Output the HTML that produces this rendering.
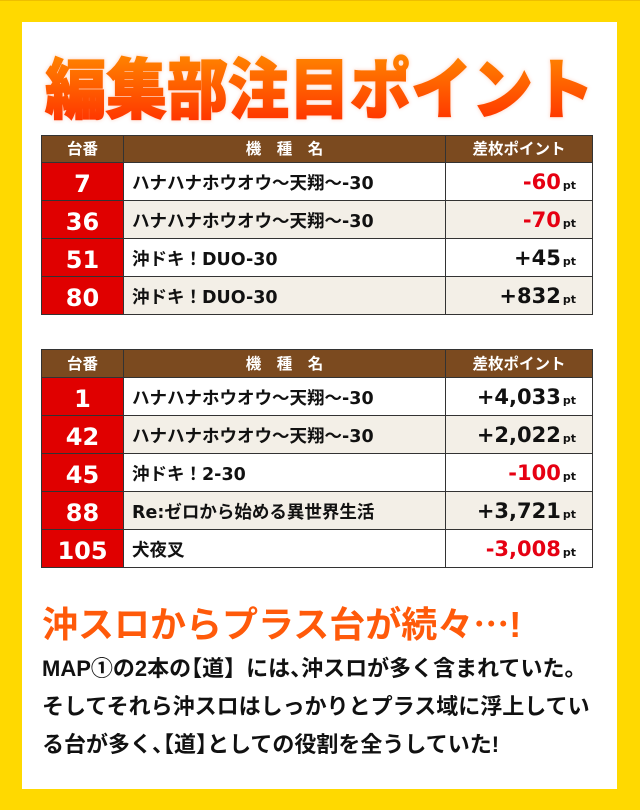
<!DOCTYPE html>
<html>
<head>
<meta charset="utf-8">
<style>
html,body{margin:0;padding:0;}
body{width:640px;height:810px;background:#FFD900;position:relative;overflow:hidden;font-family:"Liberation Sans","Noto Sans CJK JP",sans-serif;}
.strip{position:absolute;left:0;top:0;width:640px;height:1px;background:#EEBF00;}
.panel{position:absolute;left:22px;top:22px;width:595px;height:767px;background:#fff;}
.tbl{position:absolute;left:41px;width:552px;background:#333;display:grid;grid-template-columns:81px 321px 146px;column-gap:1px;row-gap:1px;padding:1px;box-sizing:border-box;}
.t1{top:135px;height:180px;grid-template-rows:26px repeat(4,37px);}
.t2{top:349px;height:219px;grid-template-rows:27px repeat(5,37px);}
.tbl>div{display:flex;align-items:center;white-space:nowrap;overflow:hidden;}
.h{background:#7B4A1F;color:#fff;font-weight:bold;font-size:15.5px;line-height:18px;justify-content:center;font-family:"Liberation Sans","Noto Sans CJK JP",sans-serif;}
.h span{position:relative;top:1px;}
.n{background:#E00000;color:#fff;font-family:"DejaVu Sans",sans-serif;font-weight:bold;font-size:24px;line-height:26px;justify-content:center;}
.m{font-family:"DejaVu Sans","Noto Sans CJK JP",sans-serif;font-weight:bold;font-size:17.5px;line-height:22px;padding-left:8px;color:#111;justify-content:flex-start;}
.v{font-family:"DejaVu Sans",sans-serif;font-weight:bold;font-size:21px;line-height:24px;color:#111;justify-content:flex-end;padding-right:16px;}
.v small{font-size:11px;margin-left:2px;color:#111;}
.n span,.m span,.v span{position:relative;top:2px;}
.r{color:#E60012;}
.w{background:#fff;}
.b{background:#F3EFE7;}
.ttl{position:absolute;left:0;top:0;}
.h2{position:absolute;left:42px;top:604px;font-size:36px;line-height:36px;font-weight:bold;color:#FF5A0A;white-space:nowrap;}
.h2 .el{font-family:"Noto Sans CJK JP",sans-serif;}
.p{position:absolute;left:42px;top:650px;font-size:22px;line-height:38px;font-weight:bold;color:#111;white-space:nowrap;}
.hf{font-feature-settings:"halt";}
</style>
</head>
<body>
<div class="strip"></div>
<div class="panel"></div>

<svg class="ttl" width="640" height="140" viewBox="0 0 640 140">
  <defs>
    <linearGradient id="g" x1="0" y1="0" x2="0" y2="1">
      <stop offset="0" stop-color="#FF8400"/>
      <stop offset="1" stop-color="#FF2E00"/>
    </linearGradient>
    <filter id="glow" x="-10%" y="-30%" width="120%" height="160%">
      <feGaussianBlur stdDeviation="1.8"/>
    </filter>
  </defs>
  <g transform="translate(319.5,113) scale(1,1.08)">
    <text x="0" y="0" text-anchor="middle" font-family="Liberation Sans, Noto Sans CJK JP, sans-serif" font-weight="900" font-size="61" fill="#FFC8B4" stroke="#FFC8B4" stroke-width="2" opacity="0.7" filter="url(#glow)">編集部注目ポイント</text>
    <text x="0" y="0" text-anchor="middle" font-family="Liberation Sans, Noto Sans CJK JP, sans-serif" font-weight="900" font-size="61" fill="url(#g)" stroke="url(#g)" stroke-width="1.2">編集部注目ポイント</text>
  </g>
</svg>

<div class="tbl t1">
  <div class="h"><span>台番</span></div>
  <div class="h"><span>機　種　名</span></div>
  <div class="h"><span>差枚ポイント</span></div>

  <div class="n"><span>7</span></div>
  <div class="m w"><span>ハナハナホウオウ～天翔～-30</span></div>
  <div class="v w"><span><b class="r">-60</b><small>pt</small></span></div>

  <div class="n"><span>36</span></div>
  <div class="m b"><span>ハナハナホウオウ～天翔～-30</span></div>
  <div class="v b"><span><b class="r">-70</b><small>pt</small></span></div>

  <div class="n"><span>51</span></div>
  <div class="m w"><span>沖ドキ！DUO-30</span></div>
  <div class="v w"><span><b>+45</b><small>pt</small></span></div>

  <div class="n"><span>80</span></div>
  <div class="m b"><span>沖ドキ！DUO-30</span></div>
  <div class="v b"><span><b>+832</b><small>pt</small></span></div>
</div>

<div class="tbl t2">
  <div class="h"><span>台番</span></div>
  <div class="h"><span>機　種　名</span></div>
  <div class="h"><span>差枚ポイント</span></div>

  <div class="n"><span>1</span></div>
  <div class="m w"><span>ハナハナホウオウ～天翔～-30</span></div>
  <div class="v w"><span><b>+4,033</b><small>pt</small></span></div>

  <div class="n"><span>42</span></div>
  <div class="m b"><span>ハナハナホウオウ～天翔～-30</span></div>
  <div class="v b"><span><b>+2,022</b><small>pt</small></span></div>

  <div class="n"><span>45</span></div>
  <div class="m w"><span>沖ドキ！2-30</span></div>
  <div class="v w"><span><b class="r">-100</b><small>pt</small></span></div>

  <div class="n"><span>88</span></div>
  <div class="m b"><span>Re:ゼロから始める異世界生活</span></div>
  <div class="v b"><span><b>+3,721</b><small>pt</small></span></div>

  <div class="n"><span>105</span></div>
  <div class="m w"><span>犬夜叉</span></div>
  <div class="v w"><span><b class="r">-3,008</b><small>pt</small></span></div>
</div>

<div class="h2">沖スロからプラス台が続々<span class="el">…</span>!</div>
<div class="p">MAP①の2本の<span class="hf">【</span>道】には<span class="hf">、</span>沖スロが多く含まれていた。<br>そしてそれら沖スロはしっかりとプラス域に浮上してい<br>る台が多く<span class="hf">、【</span>道<span class="hf">】</span>としての役割を全うしていた!</div>
</body>
</html>
